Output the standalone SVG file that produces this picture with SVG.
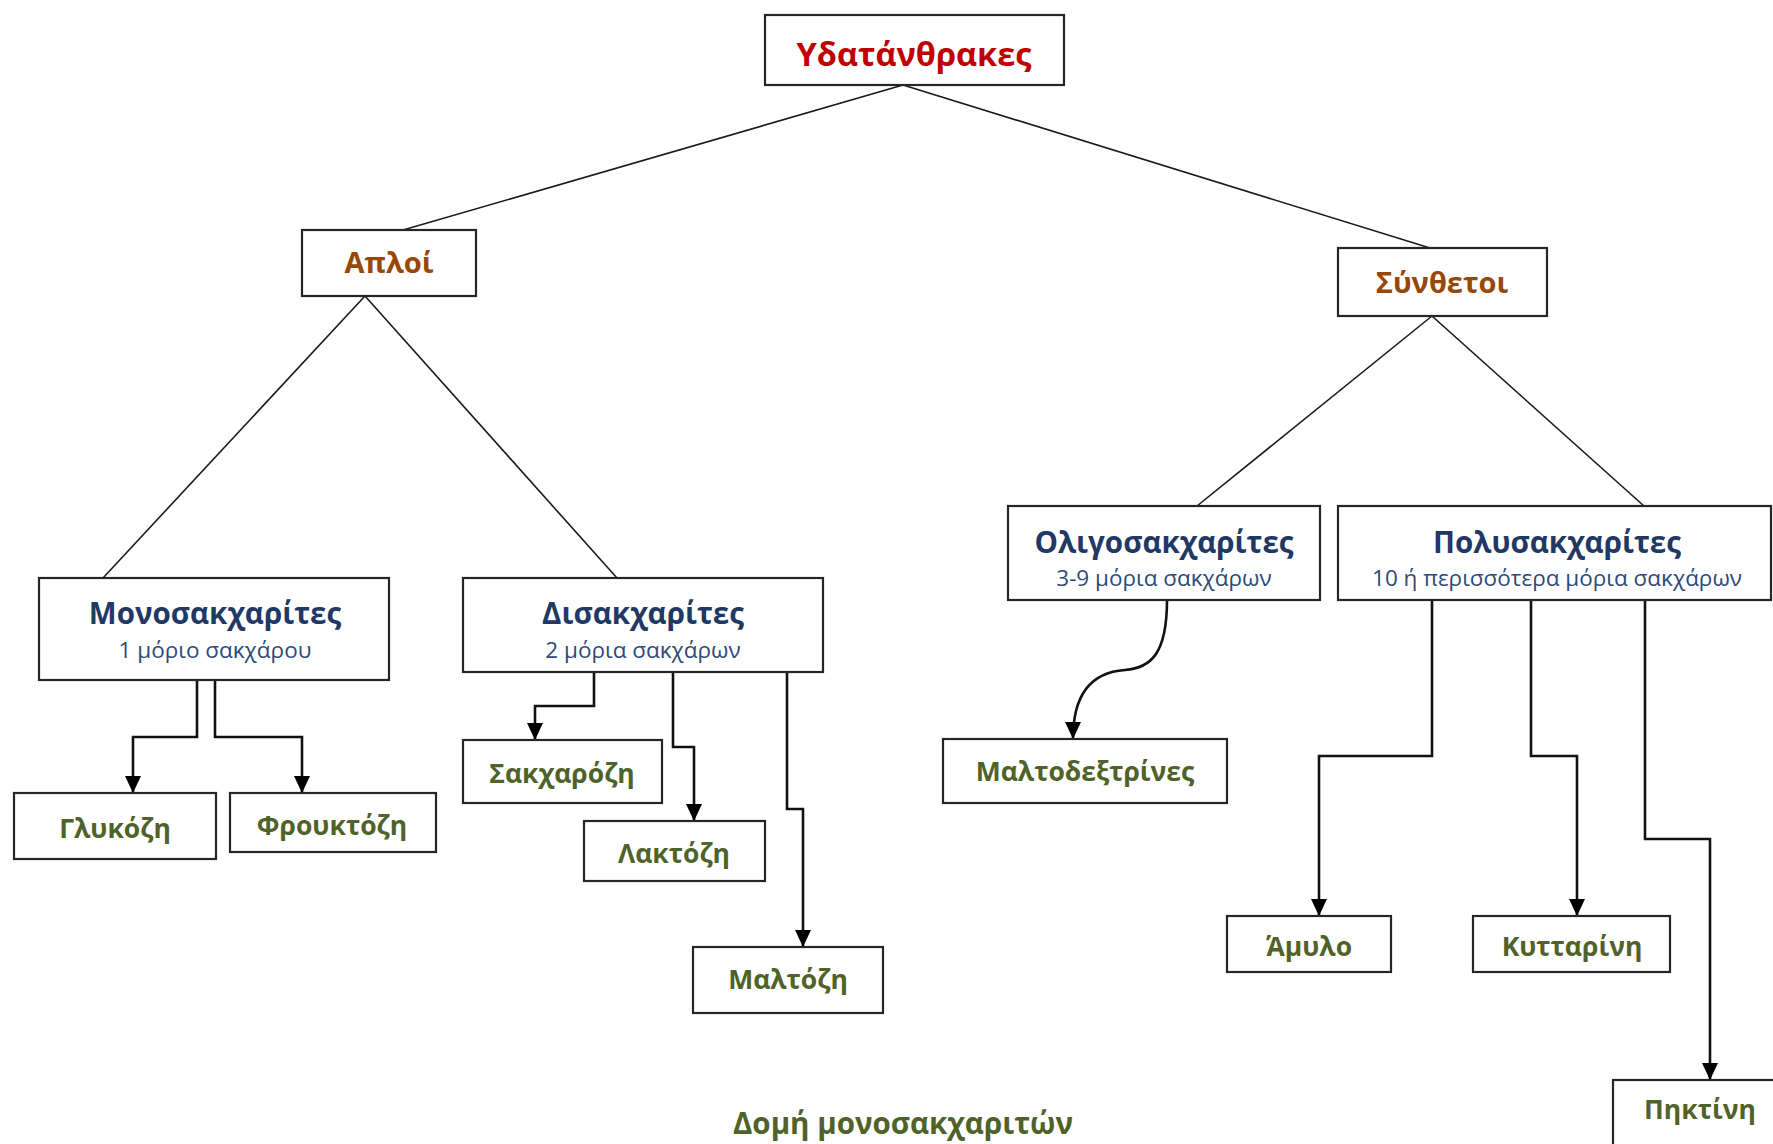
<svg xmlns="http://www.w3.org/2000/svg" width="1773" height="1144" viewBox="0 0 1773 1144">
<style>
.box{fill:#fff;stroke:#262626;stroke-width:2.2}
.t{font-family:"Open Sans","Noto Sans","DejaVu Sans",sans-serif;font-weight:bold;text-anchor:middle}
.root{fill:#C00000;font-size:32.5px}
.l2{fill:#974806;font-size:29px}
.title{fill:#1F3864;font-size:29.5px}
.sub{font-family:"Open Sans","Noto Sans","DejaVu Sans",sans-serif;text-anchor:middle;fill:#2E4A78;font-size:22.5px}
.leaf{fill:#4F6228;font-size:26.5px}
.cap{fill:#4F6228;font-size:29.5px}
.tree{fill:none;stroke:#1a1a1a;stroke-width:1.6}
.arr{fill:none;stroke:#111;stroke-width:2.6;marker-end:url(#ah)}
</style>
<defs>
<marker id="ah" markerUnits="userSpaceOnUse" markerWidth="18" markerHeight="18" viewBox="0 0 18 18" refX="17" refY="9" orient="auto">
<path d="M0,1 L17,9 L0,17 Z" fill="#000"/>
</marker>
</defs>
<rect width="1773" height="1144" fill="#fff"/>
<g id="connectors">
<path class="tree" d="M903,85 L403,230"/>
<path class="tree" d="M903,85 L1430,248"/>
<path class="tree" d="M365,296 L103,578"/>
<path class="tree" d="M365,296 L617,578"/>
<path class="tree" d="M1432,316 L1197,506"/>
<path class="tree" d="M1432,316 L1644,506"/>
<path class="arr" d="M197,680 V737 H133 V793"/>
<path class="arr" d="M215,680 V737 H302 V793"/>
<path class="arr" d="M594,672 V706 H535 V740"/>
<path class="arr" d="M673,672 V747 H694 V821"/>
<path class="arr" d="M787,672 V809 H803 V947"/>
<path class="arr" d="M1167,600 C1167,655 1150,668 1125,670 C1095,672 1073,690 1073,739"/>
<path class="arr" d="M1432,600 V756 H1319 V916"/>
<path class="arr" d="M1531,600 V756 H1577 V916"/>
<path class="arr" d="M1645,600 V839 H1710 V1080"/>
</g>
<g id="n-root"><rect class="box" x="765" y="15" width="299" height="70"/><text class="t root" x="914" y="66">Υδατάνθρακες</text></g>
<g id="n-apli"><rect class="box" x="302" y="230" width="174" height="66"/><text class="t l2" x="389" y="273">Απλοί</text></g>
<g id="n-syntheti"><rect class="box" x="1338" y="248" width="209" height="68"/><text class="t l2" x="1442" y="293">Σύνθετοι</text></g>
<g id="n-mono"><rect class="box" x="39" y="578" width="350" height="102"/><text class="t title" x="215" y="624">Μονοσακχαρίτες</text><text class="sub" x="215" y="658">1 μόριο σακχάρου</text></g>
<g id="n-di"><rect class="box" x="463" y="578" width="360" height="94"/><text class="t title" x="643" y="624">Δισακχαρίτες</text><text class="sub" x="643" y="658">2 μόρια σακχάρων</text></g>
<g id="n-oligo"><rect class="box" x="1008" y="506" width="312" height="94"/><text class="t title" x="1164" y="553">Ολιγοσακχαρίτες</text><text class="sub" x="1164" y="586">3-9 μόρια σακχάρων</text></g>
<g id="n-poly"><rect class="box" x="1338" y="506" width="433" height="94"/><text class="t title" x="1557" y="553">Πολυσακχαρίτες</text><text class="sub" x="1557" y="586">10 ή περισσότερα μόρια σακχάρων</text></g>
<g id="n-glykozi"><rect class="box" x="14" y="793" width="202" height="66"/><text class="t leaf" x="115" y="838">Γλυκόζη</text></g>
<g id="n-fruktozi"><rect class="box" x="230" y="793" width="206" height="59"/><text class="t leaf" x="332" y="835">Φρουκτόζη</text></g>
<g id="n-sakxarozi"><rect class="box" x="463" y="740" width="199" height="63"/><text class="t leaf" x="562" y="783">Σακχαρόζη</text></g>
<g id="n-laktozi"><rect class="box" x="584" y="821" width="181" height="60"/><text class="t leaf" x="674" y="863">Λακτόζη</text></g>
<g id="n-maltozi"><rect class="box" x="693" y="947" width="190" height="66"/><text class="t leaf" x="788" y="989">Μαλτόζη</text></g>
<g id="n-maltodex"><rect class="box" x="943" y="739" width="284" height="64"/><text class="t leaf" x="1085" y="781">Μαλτοδεξτρίνες</text></g>
<g id="n-amylo"><rect class="box" x="1227" y="916" width="164" height="56"/><text class="t leaf" x="1309" y="956">Άμυλο</text></g>
<g id="n-kyttarini"><rect class="box" x="1473" y="916" width="197" height="56"/><text class="t leaf" x="1572" y="956">Κυτταρίνη</text></g>
<g id="n-piktini"><rect class="box" x="1613" y="1080" width="200" height="80"/><text class="t leaf" x="1700" y="1119">Πηκτίνη</text></g>
<text class="t cap" x="903" y="1134">Δομή μονοσακχαριτών</text>
</svg>
